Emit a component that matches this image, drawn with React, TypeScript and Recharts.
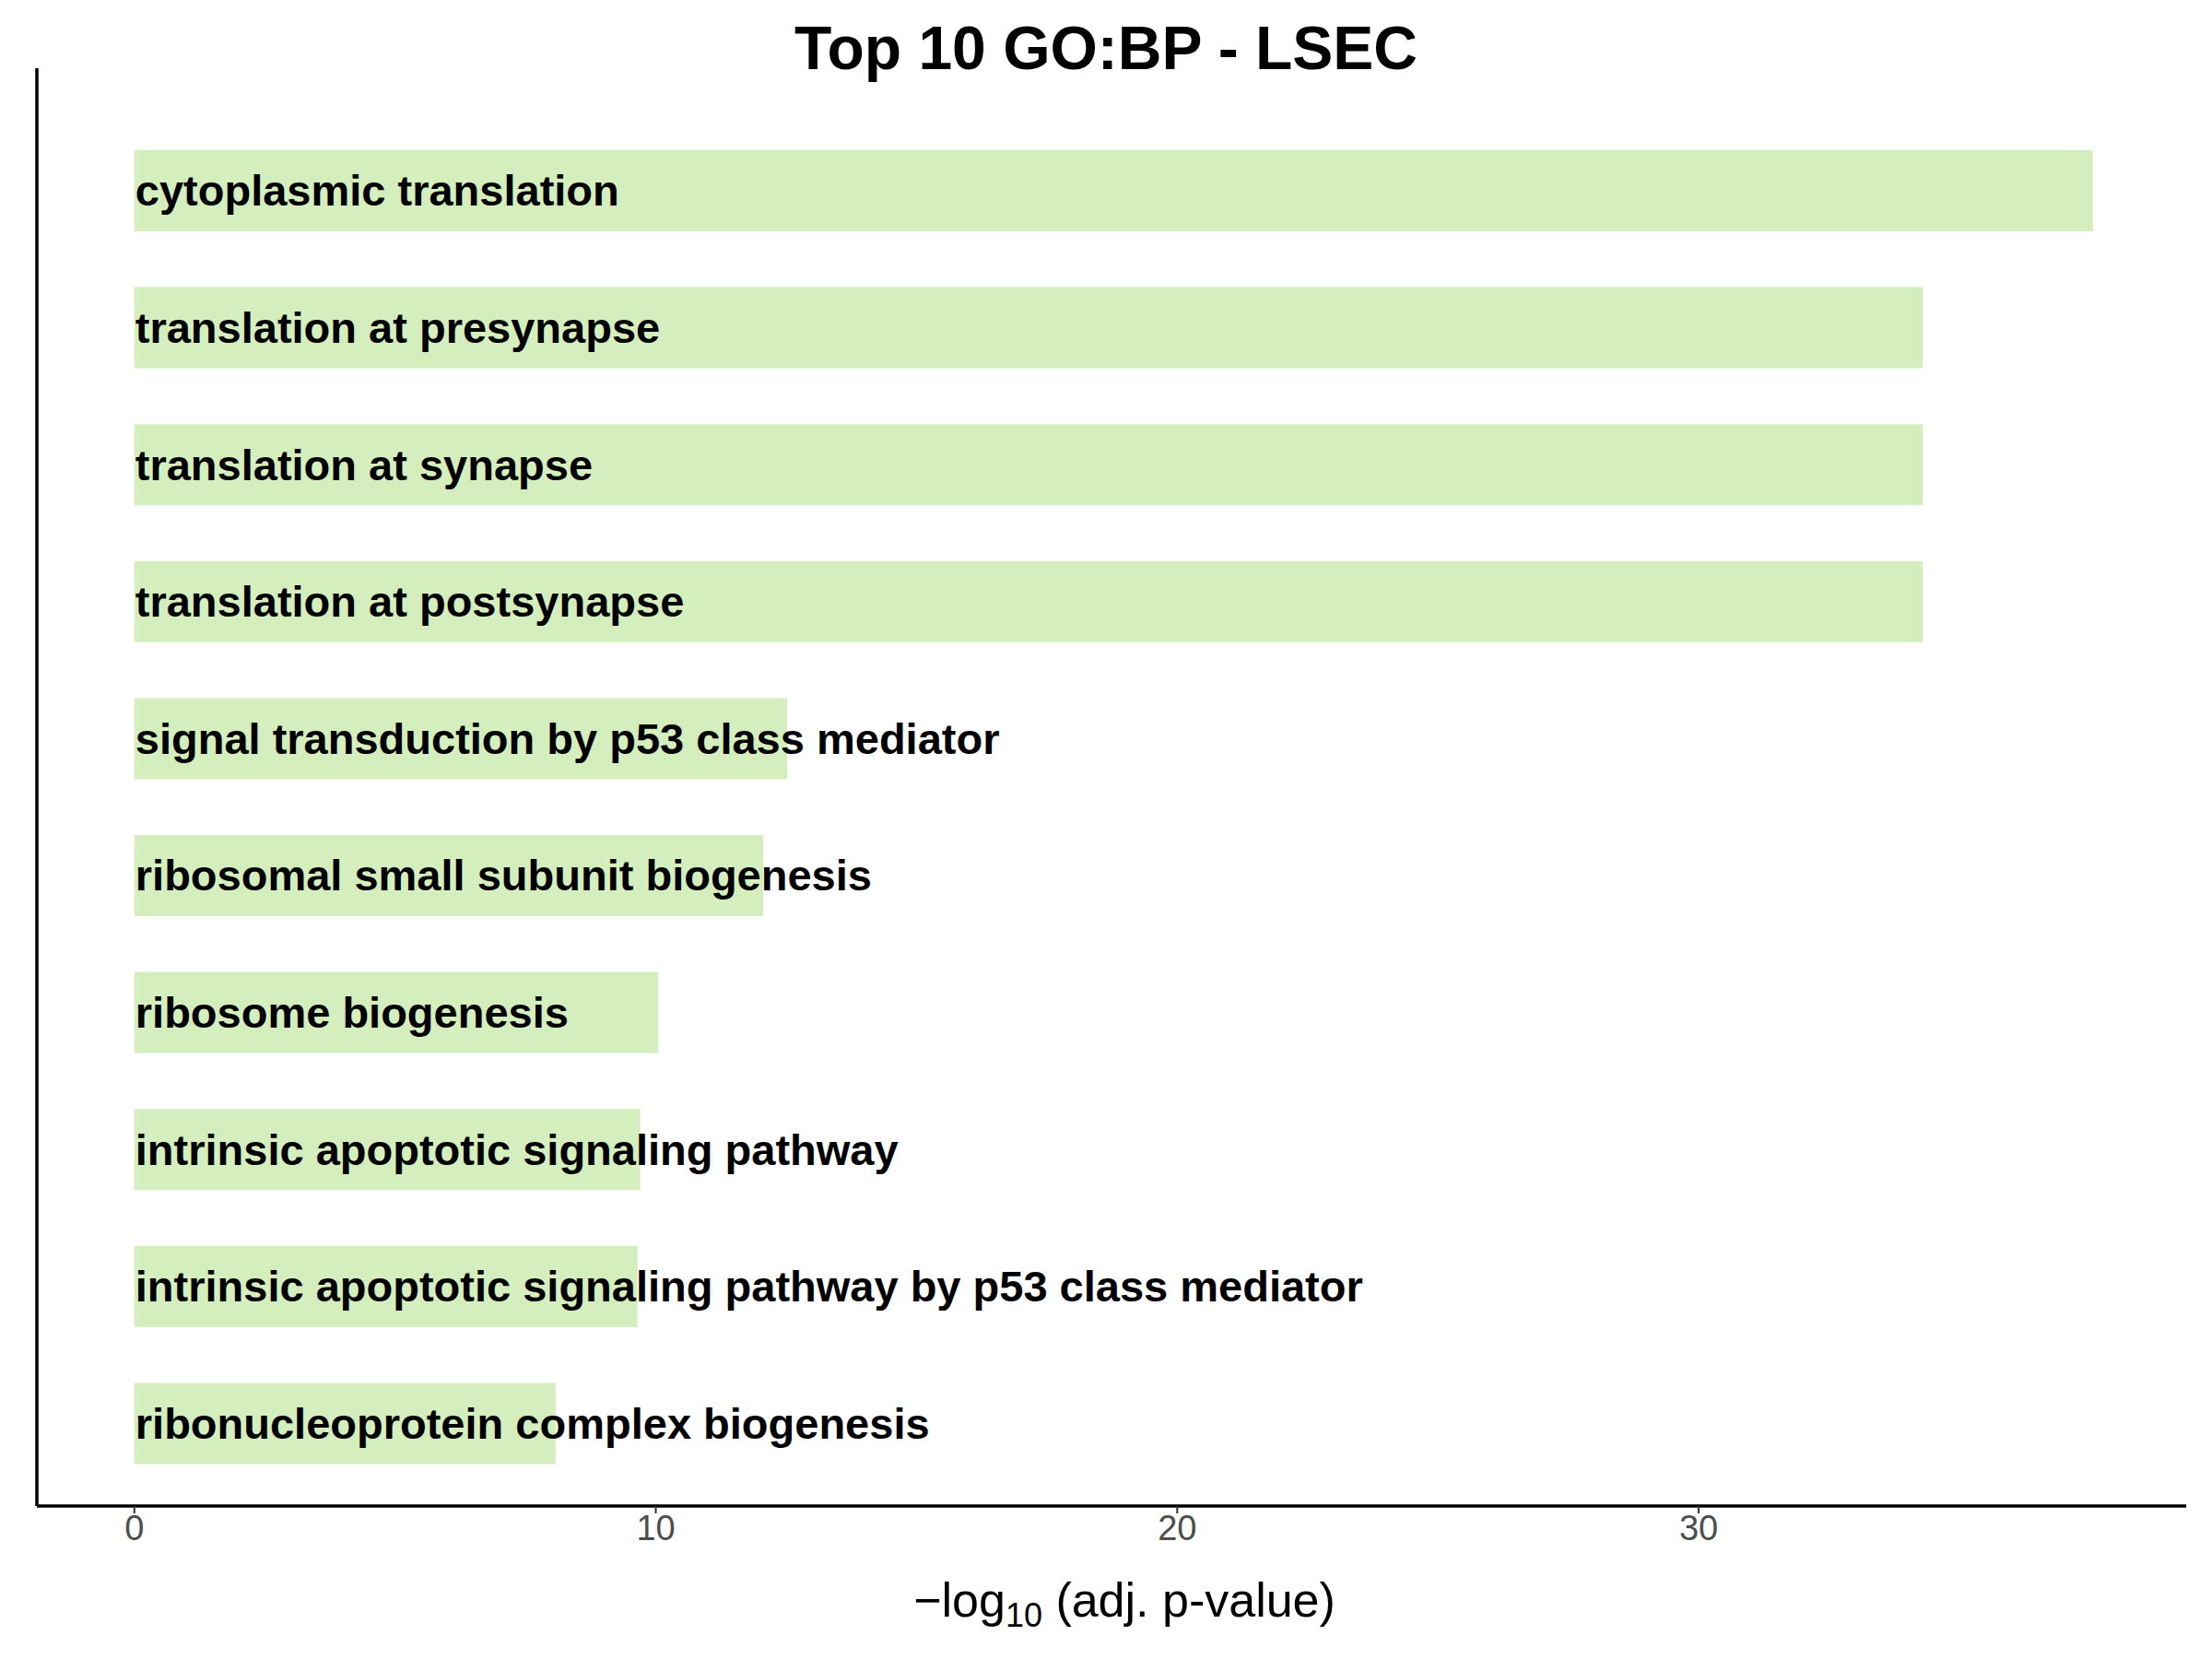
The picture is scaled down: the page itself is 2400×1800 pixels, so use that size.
import { BarChart, Bar, XAxis, YAxis, LabelList } from 'recharts'

const terms = [
  'cytoplasmic translation',
  'translation at presynapse',
  'translation at synapse',
  'translation at postsynapse',
  'signal transduction by p53 class mediator',
  'ribosomal small subunit biogenesis',
  'ribosome biogenesis',
  'intrinsic apoptotic signaling pathway',
  'intrinsic apoptotic signaling pathway by p53 class mediator',
  'ribonucleoprotein complex biogenesis',
]
const scores = [37.56, 34.3, 34.3, 34.3, 12.52, 12.06, 10.05, 9.7, 9.65, 8.08]
const xTicks = [0, 10, 20, 30]

const data = terms.map((term, i) => ({ term, score: scores[i] }))

const FONT = '"Liberation Sans", Arial, Helvetica, sans-serif'

const TermLabel = (props: any) => {
  const { x, y, height, value } = props
  return (
    <text x={x + 1} y={y + height / 2} dy="0.35em" fontFamily={FONT} fontWeight="bold" fontSize={47} fill="#000">
      {value}
    </text>
  )
}

export default function App() {
  return (
    <div style={{ position: 'absolute', left: 0, top: 0, width: 2400, height: 1800, background: '#fff', fontFamily: FONT }}>
      <div style={{ position: 'absolute', top: 14, width: 2400, textAlign: 'center', fontSize: 66, fontWeight: 'bold' }}>
        Top 10 GO:BP - LSEC
      </div>
      <BarChart
        width={2400}
        height={1800}
        data={data}
        layout="vertical"
        margin={{ top: 74, right: 28, left: 36, bottom: 0 }}
        barSize={88}
      >
        <XAxis
          type="number"
          domain={[-1.87, 39.35]}
          ticks={xTicks}
          allowDataOverflow
          height={166}
          axisLine={{ stroke: '#000', strokeWidth: 3.5 }}
          tickLine={{ stroke: '#333', strokeWidth: 2 }}
          tickSize={8}
          tick={{ fill: '#4d4d4d', fontSize: 38, fontFamily: FONT }}
        />
        <YAxis
          type="category"
          dataKey="term"
          width={4}
          tick={false}
          tickLine={false}
          padding={{ top: 59, bottom: 15 }}
          axisLine={{ stroke: '#000', strokeWidth: 3.5 }}
        />
        <Bar dataKey="score" fill="#d4efbd" isAnimationActive={false}>
          <LabelList dataKey="term" content={TermLabel} />
        </Bar>
      </BarChart>
      <div style={{ position: 'absolute', top: 1706, width: 2400, paddingLeft: 40, boxSizing: 'border-box', textAlign: 'center', fontSize: 52, color: '#000' }}>
        −log<sub style={{ fontSize: 36 }}>10</sub> (adj. p-value)
      </div>
    </div>
  )
}
